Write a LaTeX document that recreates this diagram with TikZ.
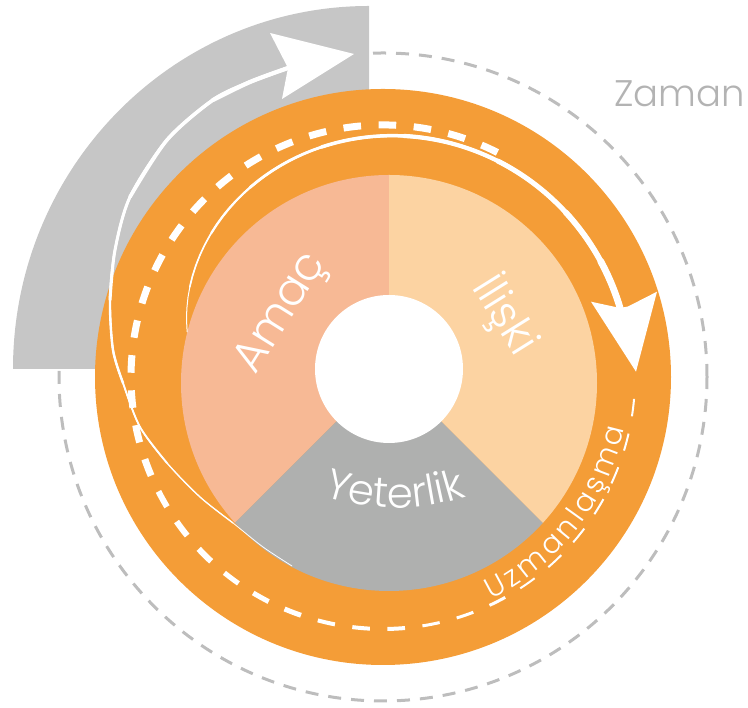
\documentclass[tikz,border=0pt]{standalone}
\usepackage{fontspec}
\newfontfamily\lf{Poppins Light}
\usetikzlibrary{decorations.text}
\definecolor{ringorange}{HTML}{F49D37}
\definecolor{amaccol}{HTML}{F7B995}
\definecolor{iliskicol}{HTML}{FCD3A2}
\definecolor{yetercol}{HTML}{AFB0AF}
\definecolor{quartercol}{HTML}{C6C6C6}
\definecolor{timedash}{HTML}{BDBDBD}
\definecolor{timetext}{HTML}{B3B3B3}
\newcommand\lblfont{\lf\fontsize{42}{48}\selectfont}
\newcommand\uzfont{\lf\fontsize{29}{34}\selectfont}
% radius of the inner spiral at angle #1 (degrees), centred on the rings
\newcommand\spr[1]{(201+47*(1-exp(-(167-#1)/40)))}
\begin{document}
\begin{tikzpicture}[x=1pt,y=1pt,
  timecircle/.style={draw=timedash, line width=3pt, dash pattern=on 13pt off 10pt},
  wline/.style={draw=white, line cap=round, line join=round},
  wdash/.style={draw=white, line cap=butt, dash pattern=on 17.6pt off 17.6pt},
  lbl/.style={text=white, inner sep=0pt},
  tip/.style={fill=white}]
\useasboundingbox (0,0) rectangle (748,708);
\coordinate (O) at (383,331);   % centre of the rings
\coordinate (G) at (369,339);   % corner of the grey quarter
\coordinate (P) at (389,325);   % centre of the pie rim
\coordinate (S) at (389,339);   % hub of the pie

% dashed time circle
\draw[timecircle] (O) circle[radius=324];
% grey quarter band
\fill[quartercol] (G) -- ++(-356,0) arc[start angle=180, end angle=90, x radius=356, y radius=363] -- cycle;
% orange ring
\fill[ringorange] (O) circle[radius=288];
% pie segments
\begin{scope}
  \clip (P) circle[radius=208];
  \fill[amaccol] (S) -- +(90:400) -- +(135:400) -- +(180:400) -- +(225:400) -- cycle;
  \fill[yetercol] (S) -- +(225:400) -- +(270:400) -- +(315:400) -- cycle;
  \fill[iliskicol] (S) -- +(315:400) -- +(0:400) -- +(45:400) -- +(90:400) -- cycle;
\end{scope}
\fill[white] (S) circle[radius=74];

% segment labels
\node[lbl, rotate=58, font=\lf\fontsize{45}{50}\selectfont] (amac) at (283,394) {Amaç};
\node[lbl, rotate=-58, font=\lf\fontsize{44}{50}\selectfont] (iliski) at (505,392) {İlişki};
\path[decorate, decoration={text along path, text={|\lblfont|Yeterlik}, text align=center, text color=white}]
  (395,422) ++(240:222) arc[start angle=240, end angle=300, radius=222];

% dashed white track, thinning as it goes round
\foreach \a/\b/\w in {63/207/7, 207/231/6, 231/255/5, 255/279/4, 279/303/3, 303/359/2}
  \draw[wdash, line width=\w pt] (O) ++(\a:252) arc[start angle=\a, end angle=\b, radius=252];

% inner spiral arrow, widening towards its head
\foreach \a/\w in {167/1, 155/1.6, 140/2.2, 125/2.8, 105/3.5, 85/4.2, 62/5, 42/5.8, 28/6.8}
  \draw[wline, line width=\w pt] plot[domain=\a:16, samples=50, variable=\t]
    ({383+\spr{\t}*cos(\t)}, {331+\spr{\t}*sin(\t)});
\fill[tip] (591,406.3) -- (620,400) -- (628,401.5) -- (657,416.3) -- (636,336.3) -- cycle;

% outer spiral arrow into the grey band
\draw[wline, line width=0.8pt] plot[smooth] coordinates {(292,142) (263,161) (233,185) (200,211) (167,245) (140,281) (123,325) (113,358) (110,408) (115,458) (130,511) (167,568) (213,608) (250,626) (288,640)};
\draw[wline, line width=1.3pt] plot[smooth] coordinates {(233,185) (200,211) (167,245) (140,281) (123,325) (113,358) (110,408) (115,458) (130,511) (167,568) (213,608) (250,626) (288,640)};
\draw[wline, line width=1.8pt] plot[smooth] coordinates {(167,245) (140,281) (123,325) (113,358) (110,408) (115,458) (130,511) (167,568) (213,608) (250,626) (288,640)};
\draw[wline, line width=2.4pt] plot[smooth] coordinates {(123,325) (113,358) (110,408) (115,458) (130,511) (167,568) (213,608) (250,626) (288,640)};
\draw[wline, line width=3pt] plot[smooth] coordinates {(110,408) (115,458) (130,511) (167,568) (213,608) (250,626) (288,640)};
\draw[wline, line width=3.6pt] plot[smooth] coordinates {(130,511) (167,568) (213,608) (250,626) (288,640)};
\draw[wline, line width=4.2pt] plot[smooth] coordinates {(213,608) (250,626) (288,640)};
\fill[tip] (270,675) -- (354,654) -- (282,609) -- (288,640) -- cycle;

% ring label
\path[decorate, decoration={text along path, text={|\uzfont|Uzmanlaşma}, text align=fit to path, text color=white}]
  (O) ++(296:247) arc[start angle=296, end angle=348, radius=247];

% time label
\node[anchor=base east, font=\lf\fontsize{37}{44}\selectfont, text=timetext, inner sep=0pt] (zaman) at (745,601) {Zaman};
\end{tikzpicture}
\end{document}
